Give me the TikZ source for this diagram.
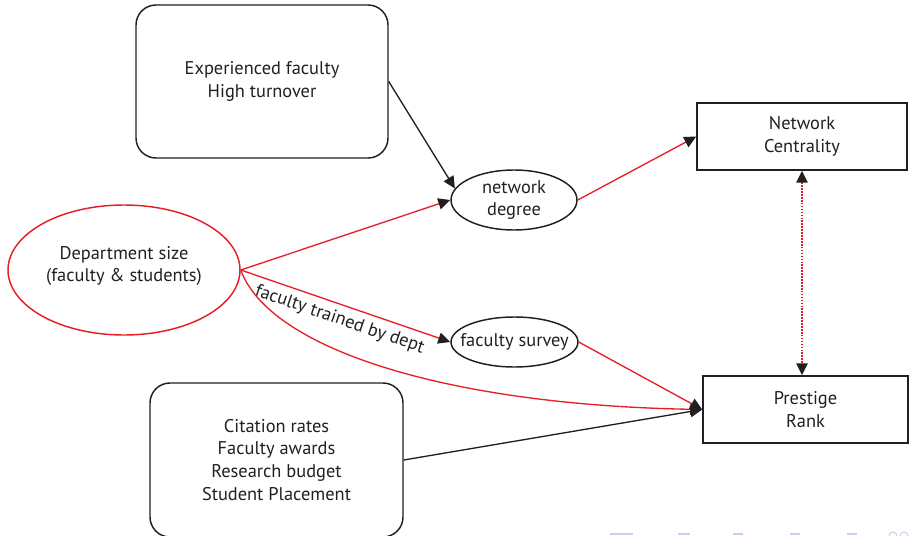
\documentclass[tikz,border=0pt]{standalone}
\usepackage{fontspec}
\setmainfont{PT Sans}
\usetikzlibrary{shapes.geometric,arrows.meta}
\definecolor{ink}{RGB}{35,31,32}
\definecolor{linkred}{RGB}{232,30,38}
\definecolor{navblue}{RGB}{205,205,238}

\begin{document}
\begin{tikzpicture}[x=0.75pt,y=-0.75pt,
  font=\fontsize{13.8}{17.2}\selectfont, text=ink,
  rbox/.style={draw=ink, line width=1.1pt, rounded corners=15pt, align=center, inner sep=0pt},
  sbox/.style={draw=ink, line width=1.1pt, align=center, inner sep=0pt},
  oval/.style={ellipse, draw=ink, line width=1.1pt, inner sep=0pt},
  tip/.style={-{Triangle[color=ink,length=9pt,width=8.5pt]}},
  redlink/.style={linkred, line width=1pt, tip},
  blacklink/.style={ink, line width=1pt, tip}]

\useasboundingbox (0,0) rectangle (913,535);

% boxes
\node[rbox, minimum width=189pt, minimum height=114.75pt] (exp) at (262,81.5)
  {Experienced faculty\\High turnover};
\node[rbox, minimum width=189.75pt, minimum height=115.5pt] (cite) at (276.5,460)
  {Citation rates\\Faculty awards\\Research budget\\Student Placement};
\node[sbox, minimum width=157.5pt, minimum height=50.25pt] (cent) at (802,136.5)
  {Network\\Centrality};
\node[sbox, minimum width=153.75pt, minimum height=50.25pt] (prest) at (805.5,409.5)
  {Prestige\\Rank};

% ellipses
\node[oval, draw=linkred, minimum width=174pt, minimum height=97.5pt,
  label={[align=center, yshift=3pt]center:Department size\\(faculty \& students)}] (dept) at (124,270) {};
\node[oval, minimum width=94.5pt, minimum height=45pt,
  label={[align=center]center:network\\degree}] (deg) at (514,200) {};
\node[oval, minimum width=95.25pt, minimum height=37.5pt,
  label={center:faculty survey}] (survey) at (514.5,342) {};

% connectors
\draw[blacklink] (exp.east) -- (deg.169);
\draw[redlink] (dept.east) -- (deg.west);
\draw[redlink] (deg.east) -- (cent.west);
\draw[redlink] (dept.east) -- node[sloped, below, pos=0.495, text=ink, inner sep=4.5pt]
  {faculty trained by dept} (survey.west);
\draw[redlink] (dept.east) .. controls (270,350) and (450,405) .. (prest.west);
\draw[redlink] (survey.east) -- (prest.west);
\draw[blacklink] (cite.east) -- (prest.west);
\draw[linkred, line width=1.2pt, densely dotted,
  {Triangle[color=ink,length=9pt,width=8.5pt]}-{Triangle[color=ink,length=9pt,width=8.5pt]}]
  (cent.south) -- (cent.south |- prest.north);

% navigation symbols along the lower edge
\foreach \xa/\xb in {610/633, 678/690, 733/743, 790/800, 847/857}
  \fill[navblue] (\xa,532.5) rectangle (\xb,535);
\draw[navblue, line width=0.8pt] (893,536) circle (4);
\draw[navblue, line width=0.8pt] (904,536) circle (4);
\end{tikzpicture}
\end{document}
